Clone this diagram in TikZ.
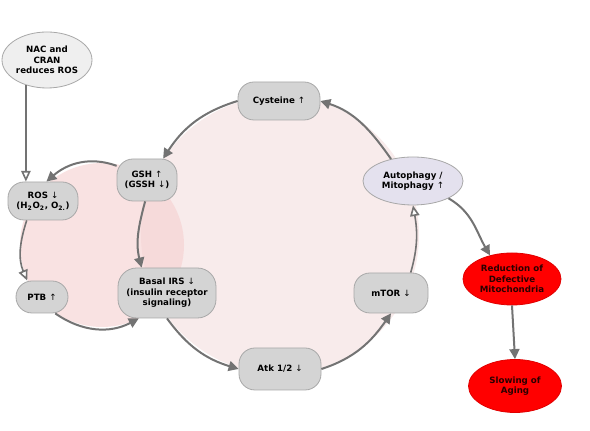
\documentclass[tikz,border=0pt]{standalone}
\usepackage{fontspec}
\setmainfont{DejaVu Sans}
\usetikzlibrary{arrows.meta,shapes.geometric,calc}
\definecolor{boxfill}{HTML}{D4D4D4}
\definecolor{boxline}{HTML}{A8A8A8}
\definecolor{conn}{HTML}{737373}
\definecolor{nacfill}{HTML}{EFEFEF}
\definecolor{autofill}{HTML}{E4E1EE}
\definecolor{redfill}{HTML}{FF0000}
\definecolor{redline}{HTML}{E00000}
\definecolor{redtext}{HTML}{2A0000}
\definecolor{bigc}{HTML}{F8EBEB}
\definecolor{smallc}{HTML}{F6CFCF}
\newcommand\myup{{\mdseries ↑}}
\newcommand\mydown{{\mdseries ↓}}
\begin{document}
\begin{tikzpicture}[x=0.75pt,y=0.75pt,
 lbl/.style={font=\fontsize{6.5}{7.9}\selectfont\bfseries, align=center, inner sep=0pt},
 box/.style={lbl, draw=boxline, fill=boxfill, line width=0.6pt, rounded corners=12pt},
 oval/.style={lbl, ellipse, draw=boxline, line width=0.6pt},
 redoval/.style={lbl, ellipse, draw=redline, fill=redfill, text=redtext, line width=0.6pt},
 arr/.style={draw=conn, line width=1.5pt, -{Triangle[length=7.5pt,width=7.5pt]}},
 inh/.style={draw=conn, line width=1.2pt, -{Triangle[open,fill=white,length=8pt,width=7pt]}}]
\useasboundingbox (0,0) rectangle (590,431);
\fill[white] (0,0) rectangle (590,431);
% background circles
\fill[bigc] (280,196) circle (139);
\fill[smallc, opacity=0.6] (102,186) circle (82);
% nodes
\node[oval, fill=nacfill, minimum width=67.5pt, minimum height=42pt] (nac) at (47,371) {NAC and\\CRAN\\reduces ROS};
\node[box, minimum width=61.5pt, minimum height=28.5pt] (cys) at (279,330) {Cysteine \myup};
\node[box, minimum width=45pt, minimum height=31.5pt] (gsh) at (147,251) {GSH \myup\\(GSSH \mydown)};
\node[box, minimum width=52.5pt, minimum height=28.5pt] (ros) at (43,230) {ROS \mydown\\(H\textsubscript{2}O\textsubscript{2}, O\textsubscript{2.})};
\node[box, minimum width=39pt, minimum height=24pt] (ptb) at (42,134) {PTB \myup};
\node[box, rounded corners=14pt, minimum width=73.5pt, minimum height=37.5pt] (irs) at (167,138) {Basal IRS \mydown\\(insulin receptor\\signaling)};
\node[box, minimum width=61.5pt, minimum height=31.5pt] (atk) at (280,62) {Atk 1/2 \mydown};
\node[box, minimum width=55.5pt, minimum height=30pt] (mtor) at (391,138) {mTOR \mydown};
\node[oval, fill=autofill, minimum width=75pt, minimum height=36pt] (auto) at (413,250) {Autophagy /\\Mitophagy \myup};
\node[redoval, minimum width=73.5pt, minimum height=39pt] (red) at (512,152) {Reduction of\\Defective\\Mitochondria};
\node[redoval, minimum width=69.75pt, minimum height=39.75pt] (slow) at (515,45) {Slowing of\\Aging};
% connectors
\draw[arr] (cys.west) to[out=197,in=57] (gsh.53);
\draw[arr] (gsh.155) to[out=160,in=41] (ros.80);
\draw[inh] (nac.230) -- (nac.230 |- ros.north);
\draw[arr] (gsh.265) to[out=255,in=104] (irs.135);
\draw[inh] (ros.230) to[out=252,in=113] (ptb.132);
\draw[arr] (ptb.309) to[out=325,in=208] (irs.222);
\draw[arr] (irs.south) to[out=306,in=163] (atk.west);
\draw[arr] (atk.east) to[out=18,in=235] (mtor.south);
\draw[inh] (mtor.46) to[out=74,in=280] (auto.south);
\draw[arr] (auto.135) to[out=125,in=342] (cys.east);
\draw[arr] (auto.334) to[out=-30,in=120] (red.133);
\draw[arr] (red.south) -- (slow.north);
\end{tikzpicture}
\end{document}
